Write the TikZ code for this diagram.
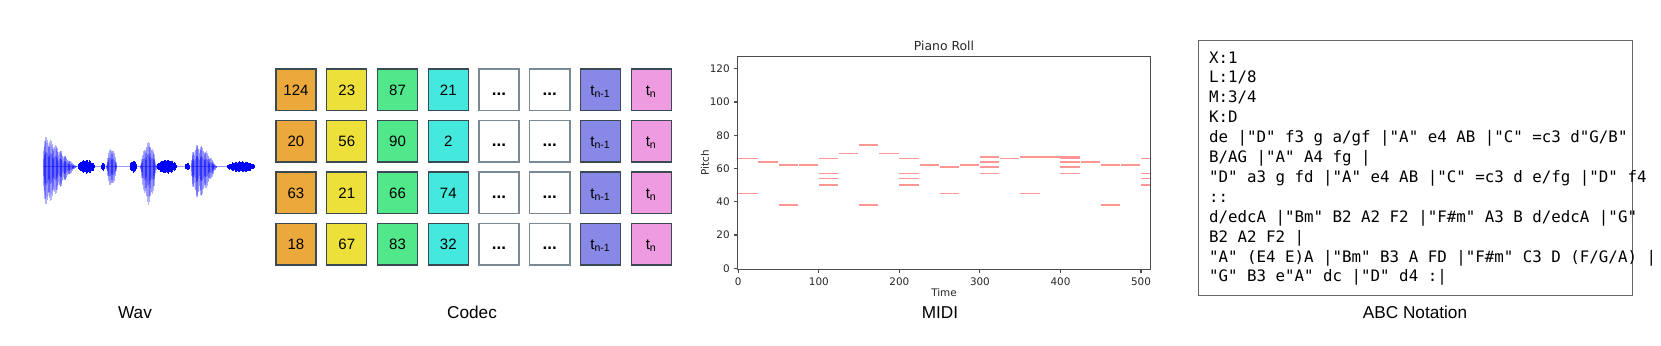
\documentclass[tikz,border=0pt]{standalone}
\usepackage{fontspec}
\setmainfont{Liberation Sans}
\newfontfamily\plotfont{DejaVu Sans}
\newfontfamily\abcfont{DejaVu Sans Mono}
\usetikzlibrary{positioning}
\definecolor{codeOrange}{RGB}{235, 169, 59}
\definecolor{codeYellow}{RGB}{237, 224, 58}
\definecolor{codeGreen}{RGB}{80, 232, 138}
\definecolor{codeCyan}{RGB}{68, 232, 221}
\definecolor{codePurple}{RGB}{136, 136, 230}
\definecolor{codePink}{RGB}{238, 155, 226}
\definecolor{boxEdge}{RGB}{58, 74, 85}
\definecolor{dotEdge}{RGB}{122, 138, 149}
\definecolor{noteRed}{RGB}{255, 150, 150}
\definecolor{waveBlue}{RGB}{0, 0, 255}

\begin{document}
\begin{tikzpicture}[
    x=0.5pt, y=-0.5pt,
    cell/.style={
      rectangle, draw=boxEdge, line width=0.65pt,
      minimum width=20.05pt, minimum height=20.7pt, inner sep=0pt,
      font=\fontsize{7.5}{9}\selectfont, text height=5.4pt, text depth=0pt
    },
    dotcell/.style={cell, fill=white, draw=dotEdge},
    caption/.style={font=\fontsize{8.6}{10}\selectfont, inner sep=0pt},
    tick/.style={font=\plotfont\fontsize{5.2}{6}\selectfont, text=black!85, inner sep=0pt},
    plotlbl/.style={tick, font=\plotfont\fontsize{5.2}{6}\selectfont},
    note/.style={fill=noteRed},
    spine/.style={draw=black!70, line width=0.55pt},
  ]
    \useasboundingbox (0,0) rectangle (1661,346);

    % Wav
    \draw[waveBlue!40, line width=0.5pt] (43,166.7) -- (255,166.7);
    \foreach \xa/\xb/\au/\ad/\pw in {43/77/30/38/0.3, 106/117/20/21/1, 140/157/25/38/1, 191/217/22/31/0.55} {
      \fill[waveBlue, opacity=0.15]
        plot[domain=0.01:1, samples=30] ({\xa+\x*(\xb-\xa)}, {166.7-0.8*\au*sin(180*\x^\pw)})
        -- plot[domain=1:0.01, samples=30] ({\xa+\x*(\xb-\xa)}, {166.7+0.8*\ad*sin(180*\x^\pw)}) -- cycle;
      \pgfmathsetmacro\xs{\xa+0.4}
      \pgfmathsetmacro\xt{\xa+1.2}
      \foreach \x in {\xs,\xt,...,\xb} {
        \pgfmathsetmacro\wpos{(\x-\xa)/(\xb-\xa)}
        \pgfmathsetmacro\wenv{sin(180*\wpos^\pw)*(0.6+0.4*abs(sin(\x*37)))}
        \draw[waveBlue, opacity=0.3, line width=0.6pt] (\x,166.7-\au*\wenv) -- (\x,166.7+\ad*\wenv);
        \draw[waveBlue, opacity=0.3, line width=0.6pt] (\x,166.7-0.5*\au*\wenv) -- (\x,166.7+0.5*\ad*\wenv);
      }
    }
    \foreach \xa/\xb/\am in {78/95/7, 101/105/4, 130/137/6, 157/177/7, 185/190/4, 227/255/5.5} {
      \pgfmathsetmacro\xs{\xa+0.3}
      \pgfmathsetmacro\xt{\xa+0.9}
      \foreach \x in {\xs,\xt,...,\xb} {
        \pgfmathsetmacro\wamp{\am*sqrt(abs(sin(180*(\x-\xa)/(\xb-\xa))))*(0.65+0.35*abs(sin(\x*53)))}
        \draw[waveBlue, line width=0.45pt] (\x,166.7-\wamp) -- (\x,166.7+\wamp);
      }
    }
    \node[caption] (wavlbl) at (135,312.5) {Wav};

    % Codec
    \foreach \r/\a/\b/\c/\d in {0/124/23/87/21, 1/20/56/90/2, 2/63/21/66/74, 3/18/67/83/32} {
      \node[cell, fill=codeOrange] (c\r-0) at (296,89.7+51.5*\r) {\a};
      \node[cell, fill=codeYellow, right=4.68pt of c\r-0] (c\r-1) {\b};
      \node[cell, fill=codeGreen, right=4.68pt of c\r-1] (c\r-2) {\c};
      \node[cell, fill=codeCyan, right=4.68pt of c\r-2] (c\r-3) {\d};
      \node[dotcell, right=4.68pt of c\r-3] (c\r-4) {\bfseries\fontsize{8.5}{9}\selectfont...};
      \node[dotcell, right=4.68pt of c\r-4] (c\r-5) {\bfseries\fontsize{8.5}{9}\selectfont...};
      \node[cell, fill=codePurple, right=4.68pt of c\r-5] (c\r-6) {t\textsubscript{n-1}};
      \node[cell, fill=codePink, right=4.68pt of c\r-6] (c\r-7) {t\textsubscript{n}};
    }
    \node[caption] (codeclbl) at (472,312.5) {Codec};

    % MIDI piano roll
    \begin{scope}[shift={(738.3,268.3)}, x=0.4027pt, y=0.8315pt]
      \foreach \t/\ps in {0/{66,45}, 25/{64}, 50/{62,38}, 75/{62}, 100/{66,57,54,50},
          125/{69}, 150/{74,38}, 175/{69}, 200/{66,57,54,50}, 225/{62}, 250/{61,45},
          275/{62}, 300/{67,64,61,57}, 325/{66}, 350/{67,45}, 375/{67},
          400/{67,66,64,61,57}, 425/{64}, 450/{62,38}, 475/{62}, 500/{66,57,54,50}} {
        \pgfmathsetmacro\te{min(\t+24,511.5)}
        \foreach \p in \ps {
          \fill[note] (\t,\p-0.5) rectangle (\te,\p+0.5);
        }
      }
      \draw[spine] (-0.5,-0.5) rectangle (511.5,127.5);
      \foreach \p in {0,20,...,120} {
        \draw[spine] (-0.5,\p) -- ++(-1.75pt,0) node[tick, anchor=east, xshift=-2.1pt] (yt\p) {\p};
      }
      \foreach \t in {0,100,...,500} {
        \draw[spine] (\t,-0.5) -- ++(0,-1.75pt) node[tick, anchor=north, yshift=-2.35pt] (xt\t) {\t};
      }
    \end{scope}
    \node[plotlbl, font=\plotfont\fontsize{6.2}{7}\selectfont] (rolltitle) at (944,45.7) {Piano Roll};
    \node[plotlbl] (timelbl) at (944,293) {Time};
    \node[plotlbl, rotate=90] (pitchlbl) at (705,163) {Pitch};
    \node[caption] (midilbl) at (940,312.5) {MIDI};

    % ABC notation
    \node[draw=black!60, line width=0.5pt, minimum width=217.2pt, minimum height=127.2pt, inner sep=0pt]
      (abcbox) at (1415.5,167.85) {};
    \node[anchor=north west, inner sep=0pt, align=left, font=\abcfont\fontsize{7.9}{9.95}\selectfont]
      (abctext) at ([xshift=5.4pt, yshift=-5.5pt]abcbox.north west)
      {X:1\\
       L:1/8\\
       M:3/4\\
       K:D\\
       de |"D" f3 g a/gf |"A" e4 AB |"C" =c3 d"G/B"\\
       B/AG |"A" A4 fg |\\
       "D" a3 g fd |"A" e4 AB |"C" =c3 d e/fg |"D" f4\\
       ::\\
       d/edcA |"Bm" B2 A2 F2 |"F\#m" A3 B d/edcA |"G"\\
       B2 A2 F2 |\\
       "A" (E4 E)A |"Bm" B3 A FD |"F\#m" C3 D (F/G/A) |\\
       "G" B3 e"A" dc |"D" d4 :|};
    \node[caption] (abclbl) at (1415,312.5) {ABC Notation};
  \end{tikzpicture}
\end{document}
